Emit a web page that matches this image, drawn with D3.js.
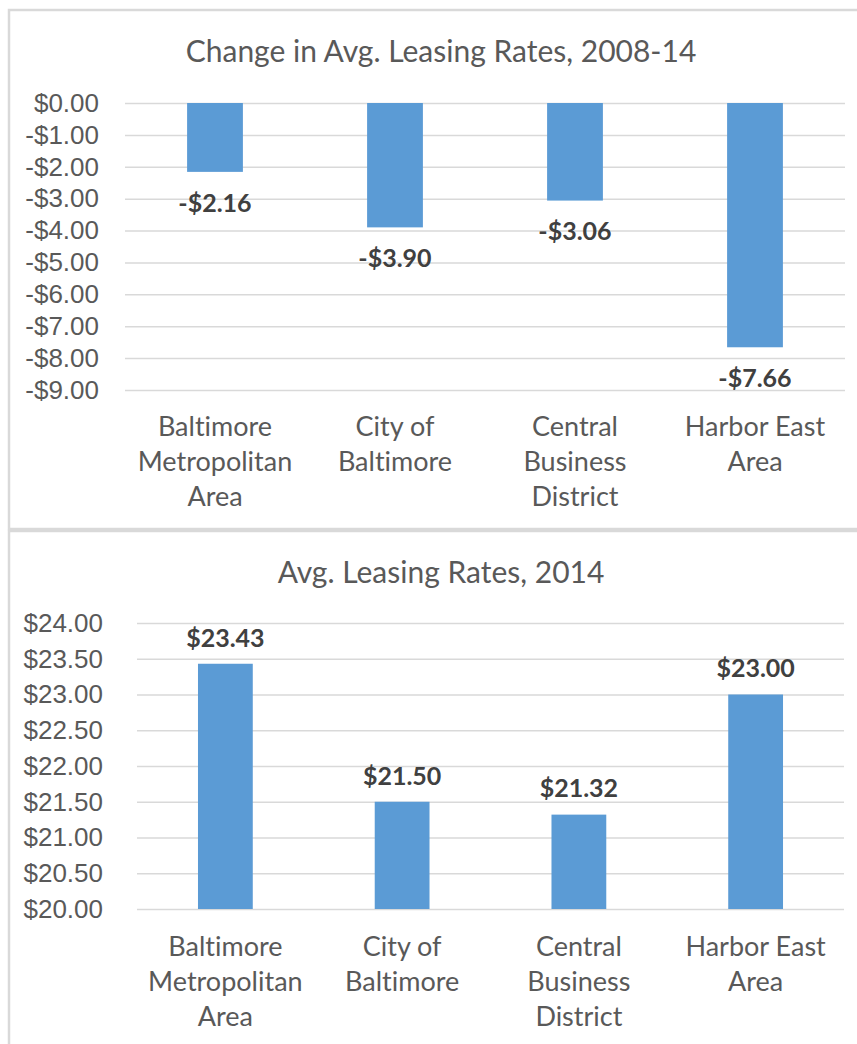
<!DOCTYPE html>
<html>
<head>
<meta charset="utf-8">
<script src="https://cdn.jsdelivr.net/npm/d3@7"></script>
<style>
  body { margin: 0; background: #fff; }
  svg { display: block; font-family: Lato, 'Open Sans', sans-serif; font-variant-ligatures: none; }
  .tick text { fill: #595959; }
</style>
</head>
<body>
<div id="chart"></div>
<script>
var categories = ['Baltimore\nMetropolitan\nArea', 'City of\nBaltimore', 'Central\nBusiness\nDistrict', 'Harbor East\nArea']

var changeValues = [-2.16, -3.90, -3.06, -7.66]
var changeTicks = [0, -1, -2, -3, -4, -5, -6, -7, -8, -9]

var rateValues = [23.43, 21.50, 21.32, 23.00]
var rateTicks = [20, 20.5, 21, 21.5, 22, 22.5, 23, 23.5, 24]

var titles = ['Change in Avg. Leasing Rates, 2008-14', 'Avg. Leasing Rates, 2014']

var svg = d3.select('#chart').append('svg').attr('width', 857).attr('height', 1044)

function money(d){
  return (d < 0 ? '-$' : '$') + Math.abs(d).toFixed(2)
}

function panel(opt){
  var g = svg.append('g')

  g.append('rect')
    .attr('x', opt.box[0]).attr('y', opt.box[1])
    .attr('width', opt.box[2]).attr('height', opt.box[3])
    .attr('fill', '#fff').attr('stroke', '#d9d9d9').attr('stroke-width', 2.5)

  g.append('text')
    .attr('x', 441).attr('y', opt.titleY).attr('dy', '0.35em')
    .attr('text-anchor', 'middle')
    .style('font-size', '30px').style('fill', '#595959')
    .text(opt.title)

  var x = d3.scaleBand().domain(d3.range(categories.length))
    .range([opt.left, opt.right]).paddingInner(0.69).paddingOuter(0.345)
  var y = d3.scaleLinear().domain(opt.domain).range(opt.yRange)

  // gridlines
  g.append('g')
    .attr('transform', 'translate(' + opt.left + ',0)')
    .call(d3.axisLeft(y).tickValues(opt.ticks).tickSize(-(opt.right - opt.left)).tickFormat(''))
    .call(function(a){
      a.select('.domain').remove()
      a.selectAll('line').attr('stroke', '#d9d9d9').attr('stroke-width', 1.5)
    })

  // y tick labels
  g.append('g')
    .attr('transform', 'translate(' + opt.labelX + ',0)')
    .call(d3.axisLeft(y).tickValues(opt.ticks).tickSize(0).tickPadding(0).tickFormat(money))
    .call(function(a){
      a.select('.domain').remove()
      a.selectAll('text').style('font-size', '26px').style('fill', '#595959')
    })

  var base = y(opt.base)
  g.selectAll('rect.bar').data(opt.values).join('rect')
    .attr('class', 'bar')
    .attr('x', function(d, i){ return x(i) })
    .attr('width', x.bandwidth())
    .attr('y', function(d){ return Math.min(y(d), base) })
    .attr('height', function(d){ return Math.abs(y(d) - base) })
    .attr('fill', '#5b9bd5')

  g.selectAll('text.val').data(opt.values).join('text')
    .attr('class', 'val')
    .attr('x', function(d, i){ return x(i) + x.bandwidth() / 2 })
    .attr('y', function(d){ return y(d) + opt.labelOffset })
    .attr('dy', '0.35em')
    .attr('text-anchor', 'middle')
    .style('font-size', '25px').style('font-weight', 'bold').style('fill', '#404040')
    .text(money)

  // category labels
  var cat = g.selectAll('text.cat').data(categories).join('text')
    .attr('class', 'cat')
    .attr('text-anchor', 'middle')
    .style('font-size', '27px').style('fill', '#595959')
  cat.selectAll('tspan').data(function(d, i){
      return d.split('\n').map(function(s){ return {s: s, i: i} })
    }).join('tspan')
    .attr('x', function(d){ return x(d.i) + x.bandwidth() / 2 })
    .attr('y', function(d, j){ return opt.catY + j * 35 })
    .attr('dy', '0.35em')
    .text(function(d){ return d.s })
}

panel({
  box: [9, 10, 870, 519],
  title: titles[0], titleY: 51,
  left: 125, right: 845,
  domain: [0, -9], yRange: [103, 390],
  ticks: changeTicks, base: 0,
  values: changeValues, labelOffset: 31,
  labelX: 99, catY: 427
})

panel({
  box: [9, 531, 870, 600],
  title: titles[1], titleY: 572,
  left: 137, right: 844,
  domain: [20, 24], yRange: [909, 623],
  ticks: rateTicks, base: 20,
  values: rateValues, labelOffset: -26,
  labelX: 103, catY: 947
})
</script>
</body>
</html>
